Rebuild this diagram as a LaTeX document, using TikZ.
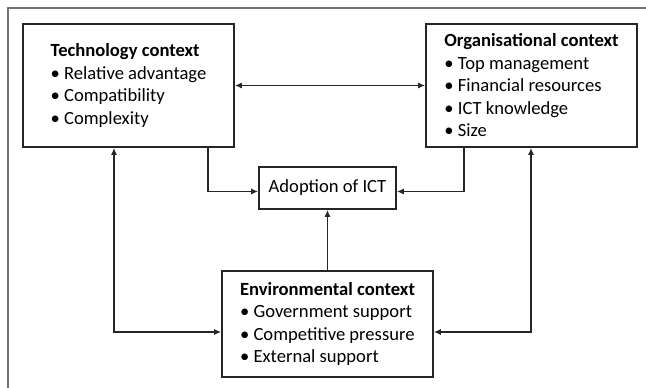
\documentclass[tikz,border=0pt]{standalone}
\usepackage{fontspec}
\setmainfont{Carlito}
\usetikzlibrary{arrows.meta, positioning, calc}

\begin{document}
\begin{tikzpicture}[
    x=1pt, y=1pt,
    box/.style={draw=black!85, line width=1.6pt, minimum width=211pt, minimum height=123pt, align=left, inner sep=0pt, font=\fontsize{18.6}{22.5}\selectfont},
    arrow/.style={-{Latex[length=7pt,width=6pt]}, line width=1.5pt, black!85},
    both/.style={{Latex[length=7pt,width=6pt]}-{Latex[length=7pt,width=6pt]}},
    frame/.style={draw=black!55, line width=1.6pt}
]

\useasboundingbox (0,0) rectangle (646,388);

% Rahmen
\draw[frame] (8,0) |- (646,380);

% Kontexte
\node[box] (tech) at (128.5, 302.5) {\textbf{Technology context}\\\textbullet{} Relative advantage\\\textbullet{} Compatibility\\\textbullet{} Complexity};
\node[box] (org) at (531.5, 302.5) {\textbf{Organisational context}\\\textbullet{} Top management\\\textbullet{} Financial resources\\\textbullet{} ICT knowledge\\\textbullet{} Size};
\node[box, minimum height=106pt] (env) at (327.5, 64) {\textbf{Environmental context}\\\textbullet{} Government support\\\textbullet{} Competitive pressure\\\textbullet{} External support};

% Adoption
\node[box, minimum width=137pt, minimum height=42pt, align=center] (adopt) at (327.5, 200) {Adoption of ICT};

% Pfeile
\draw[arrow, both] (tech.east) -- (org.west);
\draw[arrow] ([xshift=79.5pt]tech.south) |- ([yshift=-3.5pt]adopt.west);
\draw[arrow] ([xshift=-67.5pt]org.south) |- ([yshift=-3.5pt]adopt.east);
\draw[arrow] (env.north) -- (adopt.south);
\draw[arrow, both] ([xshift=-14.5pt]tech.south) |- ([yshift=-8pt]env.west);
\draw[arrow, both] ([xshift=-0.5pt]org.south) |- ([yshift=-8pt]env.east);

\end{tikzpicture}
\end{document}
